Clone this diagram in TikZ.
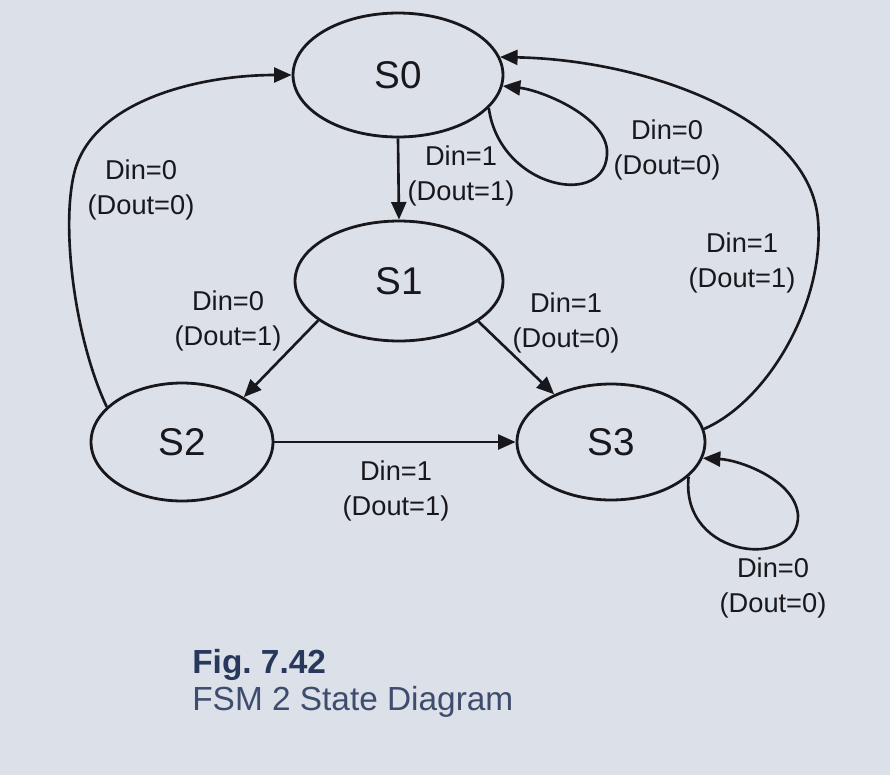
\documentclass[tikz,border=0pt]{standalone}
\usepackage{fontspec}
\setmainfont{Liberation Sans}
\usetikzlibrary{shapes.geometric,arrows.meta}
\definecolor{bgc}{RGB}{220,224,232}
\definecolor{ink}{RGB}{24,24,28}
\definecolor{capA}{RGB}{40,55,92}
\definecolor{capB}{RGB}{62,76,110}
\begin{document}
\begin{tikzpicture}[x=0.02cm,y=-0.02cm,
  state/.style={ellipse,draw=ink,line width=1.6pt,inner sep=0pt,font=\fontsize{22}{24}\selectfont,text=ink},
  edge/.style={draw=ink,line width=1.5pt,-{Triangle[length=10pt,width=8.5pt]}},
  lab/.style={align=center,font=\fontsize{15.5}{19.5}\selectfont,text=ink,inner sep=0pt}]
\fill[bgc] (0,0) rectangle (890,775);
\useasboundingbox (0,0) rectangle (890,775);
% states
\node[state,minimum width=4.2cm,minimum height=2.48cm] (S0) at (398,75) {S0};
\node[state,minimum width=4.16cm,minimum height=2.4cm] (S1) at (399,281) {S1};
\node[state,minimum width=3.64cm,minimum height=2.36cm] (S2) at (182,442) {S2};
\node[state,minimum width=3.76cm,minimum height=2.32cm] (S3) at (611,442) {S3};
% edges
\draw[edge] (S0.south) -- (S1.north);
\draw[edge] (S0.-20) .. controls (500,190) and (610,210) .. (607,150)
            .. controls (604,115) and (540,90) .. (S0.-6);
\draw[edge] (S3.8) .. controls (770,400) and (825,300) .. (818,220)
            .. controls (810,120) and (650,60) .. (S0.10);
\draw[edge] (S2.155) .. controls (75,340) and (60,225) .. (75,170)
            .. controls (95,100) and (200,75) .. (S0.west);
\draw[edge] (S1.206) -- (S2.36);
\draw[edge] (S1.-27) -- (S3.140);
\draw[edge] (S2.east) -- (S3.west);
\draw[edge] (S3.-24) .. controls (680,560) and (800,570) .. (798,515)
            .. controls (795,480) and (740,460) .. (S3.-10);
% labels
\node[lab] (l01) at (461,176) {Din=1\\(Dout=1)};
\node[lab] (l00) at (667,150) {Din=0\\(Dout=0)};
\node[lab] (l30) at (742,263) {Din=1\\(Dout=1)};
\node[lab] (l20) at (141,190) {Din=0\\(Dout=0)};
\node[lab] (l12) at (228,321) {Din=0\\(Dout=1)};
\node[lab] (l13) at (566,323) {Din=1\\(Dout=0)};
\node[lab] (l23) at (396,491) {Din=1\\(Dout=1)};
\node[lab] (l33) at (773,588) {Din=0\\(Dout=0)};
% caption
\node[anchor=west,inner sep=0pt,text=capA,font=\fontsize{19}{22}\selectfont\bfseries] (fig) at (192,665) {Fig.\ 7.42};
\node[anchor=west,inner sep=0pt,text=capB,font=\fontsize{19}{22}\selectfont] (cap) at (192,702) {FSM 2 State Diagram};
\end{tikzpicture}
\end{document}
